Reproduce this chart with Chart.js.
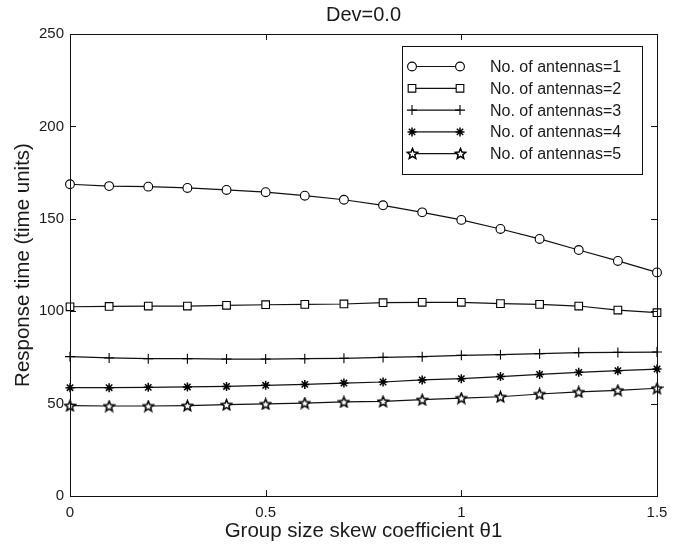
<!DOCTYPE html>
<html>
<head>
<meta charset="utf-8">
<script src="https://cdn.jsdelivr.net/npm/chart.js@4/dist/chart.umd.min.js"></script>
<style>
  html, body { margin: 0; padding: 0; background: #fff; }
  #wrap { width: 681px; height: 546px; }
</style>
</head>
<body>
<div id="wrap"><canvas id="c" width="681" height="546"></canvas></div>
<script>
// Group size skew coefficient values
const skew = [0, 0.1, 0.2, 0.3, 0.4, 0.5, 0.6, 0.7, 0.8, 0.9, 1.0, 1.1, 1.2, 1.3, 1.4, 1.5];

// Response time per number of antennas
const antennas1 = [168.7, 167.7, 167.4, 166.7, 165.6, 164.4, 162.5, 160.3, 157.3, 153.5, 149.4, 144.5, 139.1, 133.1, 127.2, 121.0];
const antennas2 = [102.4, 102.6, 102.8, 102.8, 103.2, 103.5, 103.7, 103.9, 104.6, 104.8, 104.8, 104.1, 103.7, 102.8, 100.6, 99.2];
const antennas3 = [75.4, 74.7, 74.3, 74.3, 74.1, 74.1, 74.3, 74.5, 75.0, 75.4, 76.1, 76.5, 77.0, 77.6, 77.7, 77.9];
const antennas4 = [58.6, 58.6, 58.8, 59.0, 59.3, 59.9, 60.4, 61.1, 61.7, 62.8, 63.5, 64.6, 65.8, 66.9, 67.8, 68.7];
const antennas5 = [48.9, 48.7, 48.7, 48.9, 49.4, 49.8, 50.3, 50.9, 51.2, 52.1, 53.0, 53.7, 55.2, 56.3, 57.2, 58.3];

const seriesLabels = ['No. of antennas=1', 'No. of antennas=2', 'No. of antennas=3', 'No. of antennas=4', 'No. of antennas=5'];
const xTicks = [0, 0.5, 1, 1.5];
const yTicks = [0, 50, 100, 150, 200, 250];

const FONT = '"Liberation Sans", Arial, Helvetica, sans-serif';
const INK = '#111';
const TEXT = '#1a1a1a';

// Five-pointed star marker, drawn once onto a small canvas
function makeStar(size) {
  const cv = document.createElement('canvas');
  cv.width = size; cv.height = size;
  const g = cv.getContext('2d');
  const cx = size / 2, cy = size / 2 + 0.5, ro = size / 2 - 1, ri = ro * 0.45;
  g.beginPath();
  for (let i = 0; i < 10; i++) {
    const r = i % 2 === 0 ? ro : ri;
    const a = -Math.PI / 2 + i * Math.PI / 5;
    const px = cx + r * Math.cos(a), py = cy + r * Math.sin(a);
    if (i === 0) g.moveTo(px, py); else g.lineTo(px, py);
  }
  g.closePath();
  g.fillStyle = '#fff';
  g.fill();
  g.strokeStyle = '#000';
  g.lineWidth = 1.5;
  g.lineJoin = 'miter';
  g.stroke();
  return cv;
}
const starImg = makeStar(13);

const styles = [
  { pointStyle: 'circle', radius: 4.4, width: 1.1 },
  { pointStyle: 'rect', radius: 5.4, width: 1.1 },
  { pointStyle: 'cross', radius: 5, width: 1.1 },
  { pointStyle: 'star', radius: 4.5, width: 1.5 },
  { pointStyle: starImg, radius: 7, width: 1.1 }
];
const values = [antennas1, antennas2, antennas3, antennas4, antennas5];

const datasets = values.map((vals, i) => ({
  label: seriesLabels[i],
  data: skew.map((x, j) => ({ x: x, y: vals[j] })),
  borderColor: INK,
  backgroundColor: '#fff',
  borderWidth: 1.2,
  pointStyle: styles[i].pointStyle,
  pointRadius: styles[i].radius,
  pointBorderColor: '#000',
  pointBackgroundColor: '#fff',
  pointBorderWidth: styles[i].width,
  tension: 0,
  clip: false
}));

// Marker drawing for the legend box
function drawMarker(ctx, st, x, y) {
  const style = st.pointStyle, r = st.radius;
  ctx.save();
  ctx.strokeStyle = '#000';
  ctx.fillStyle = '#fff';
  ctx.lineWidth = st.width;
  if (typeof style !== 'string') {
    ctx.drawImage(style, Math.round(x - style.width / 2), Math.round(y - style.height / 2));
    ctx.restore();
    return;
  }
  ctx.beginPath();
  if (style === 'circle') {
    ctx.arc(x, y, r, 0, Math.PI * 2);
    ctx.fill(); ctx.stroke();
  } else if (style === 'rect') {
    const s = r * Math.SQRT1_2;
    ctx.rect(x - s, y - s, 2 * s, 2 * s);
    ctx.fill(); ctx.stroke();
  } else if (style === 'cross') {
    ctx.moveTo(x - r, y); ctx.lineTo(x + r, y);
    ctx.moveTo(x, y - r); ctx.lineTo(x, y + r);
    ctx.stroke();
  } else if (style === 'star') {
    for (let k = 0; k < 4; k++) {
      const a = k * Math.PI / 4;
      ctx.moveTo(x - r * Math.cos(a), y - r * Math.sin(a));
      ctx.lineTo(x + r * Math.cos(a), y + r * Math.sin(a));
    }
    ctx.stroke();
  }
  ctx.restore();
}

// Box frame with inward ticks on all four sides, plus the boxed legend
const framePlugin = {
  id: 'frame',
  afterDatasetsDraw(chart) {
    const { ctx, chartArea: a, scales } = chart;
    const L = 6;
    ctx.save();
    ctx.strokeStyle = INK;
    ctx.lineWidth = 1;
    ctx.strokeRect(Math.round(a.left) + 0.5, Math.round(a.top) + 0.5,
                   Math.round(a.right - a.left), Math.round(a.bottom - a.top));
    ctx.beginPath();
    xTicks.forEach(v => {
      const px = Math.round(scales.x.getPixelForValue(v)) + 0.5;
      ctx.moveTo(px, a.bottom); ctx.lineTo(px, a.bottom - L);
      ctx.moveTo(px, a.top); ctx.lineTo(px, a.top + L);
    });
    yTicks.forEach(v => {
      const py = Math.round(scales.y.getPixelForValue(v)) + 0.5;
      ctx.moveTo(a.left, py); ctx.lineTo(a.left + L, py);
      ctx.moveTo(a.right, py); ctx.lineTo(a.right - L, py);
    });
    ctx.stroke();

    // Legend
    const bw = 240, bh = 128;
    const bx = Math.round(a.right - 15 - bw), by = Math.round(a.top + 12);
    ctx.fillStyle = '#fff';
    ctx.fillRect(bx, by, bw, bh);
    ctx.strokeRect(bx + 0.5, by + 0.5, bw, bh);
    ctx.font = '16px ' + FONT;
    ctx.textBaseline = 'middle';
    ctx.textAlign = 'left';
    seriesLabels.forEach((lab, i) => {
      const yy = by + 20.5 + i * 21.8;
      const x1 = bx + 10, x2 = bx + 58;
      ctx.strokeStyle = INK;
      ctx.lineWidth = 1.2;
      ctx.beginPath();
      ctx.moveTo(x1, yy); ctx.lineTo(x2, yy);
      ctx.stroke();
      drawMarker(ctx, styles[i], x1, yy);
      drawMarker(ctx, styles[i], x2, yy);
      ctx.fillStyle = TEXT;
      ctx.fillText(lab, bx + 88, yy + 1);
    });
    ctx.restore();
  }
};

new Chart(document.getElementById('c'), {
  type: 'line',
  data: { datasets },
  options: {
    responsive: false,
    animation: false,
    layout: { padding: { left: 11, right: 24, top: 0, bottom: 0 } },
    plugins: {
      legend: { display: false },
      tooltip: { enabled: false },
      title: {
        display: true,
        fullSize: false,
        text: 'Dev=0.0',
        color: TEXT,
        font: { family: FONT, size: 20, weight: 'normal' },
        padding: { top: 3, bottom: 7 }
      }
    },
    scales: {
      x: {
        type: 'linear',
        min: 0, max: 1.5,
        afterBuildTicks: s => { s.ticks = xTicks.map(v => ({ value: v })); },
        afterFit: s => { s.height = 50; },
        grid: { display: false, drawTicks: false },
        border: { display: false },
        ticks: {
          color: TEXT,
          padding: 8,
          font: { family: FONT, size: 15 },
          maxRotation: 0,
          callback: v => String(v)
        },
        title: {
          display: true,
          text: 'Group size skew coefficient θ1',
          color: TEXT,
          font: { family: FONT, size: 20.5 },
          padding: { top: 0, bottom: 2 }
        }
      },
      y: {
        type: 'linear',
        min: 0, max: 250,
        afterBuildTicks: s => { s.ticks = yTicks.map(v => ({ value: v })); },
        afterFit: s => { s.width = 59; },
        grid: { display: false, drawTicks: false },
        border: { display: false },
        ticks: {
          color: TEXT,
          padding: 6,
          font: { family: FONT, size: 15 }
        },
        title: {
          display: true,
          text: 'Response time (time units)',
          color: TEXT,
          font: { family: FONT, size: 20.5 },
          padding: { top: 0, bottom: 4 }
        }
      }
    }
  },
  plugins: [framePlugin]
});
</script>
</body>
</html>
